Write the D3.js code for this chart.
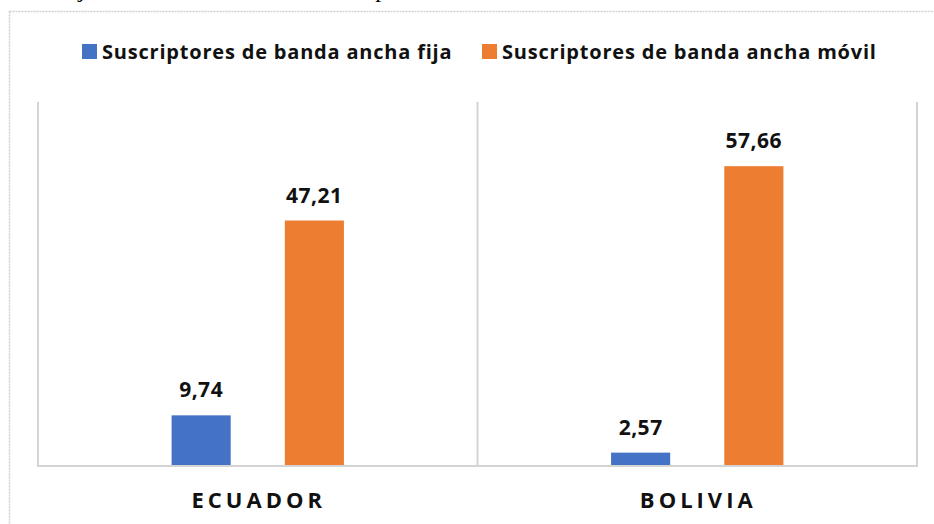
<!DOCTYPE html>
<html>
<head>
<meta charset="utf-8">
<script src="https://cdn.jsdelivr.net/npm/d3@7"></script>
<style>
  html, body { margin: 0; padding: 0; background: #fff; }
  svg { display: block; }
</style>
</head>
<body>
<svg id="chart" width="934" height="524"></svg>
<script>
// Data
const categories = ["ECUADOR", "BOLIVIA"];
const seriesNames = ["Suscriptores de banda ancha fija", "Suscriptores de banda ancha móvil"];
const fija = [9.74, 2.57];
const movil = [47.21, 57.66];
const seriesColors = ["#4472C4", "#ED7D31"];

const fmt = v => d3.format(".2f")(v).replace(".", ",");

const svg = d3.select("#chart");
const W = 934, H = 524;
const plot = { left: 38, right: 917, top: 102, bottom: 466 };
const labelFont = "'Open Sans', Lato, sans-serif";

// Running text of the page above the figure (only its lowest strokes fall inside)
svg.append("text")
  .attr("x", 97).attr("y", -3)
  .attr("text-anchor", "end")
  .attr("font-family", "'Liberation Serif', 'Times New Roman', serif")
  .attr("font-size", 24)
  .attr("fill", "#000")
  .text("Trabajo");
svg.append("text")
  .attr("x", 334).attr("y", -3)
  .attr("font-family", "'Liberation Serif', 'Times New Roman', serif")
  .attr("font-size", 24)
  .attr("fill", "#000")
  .text("comparación");

// Chart frame
svg.append("rect")
  .attr("x", 9.5).attr("y", 11.5)
  .attr("width", W + 20).attr("height", H + 20)
  .attr("fill", "none")
  .attr("stroke", "#d0d0d0")
  .attr("stroke-width", 1.5)
  .attr("stroke-dasharray", "2,1");

// Scales
const x0 = d3.scaleBand()
  .domain(categories)
  .range([plot.left, plot.right])
  .padding(0);

const x1 = d3.scaleBand()
  .domain(seriesNames)
  .range([0, x0.bandwidth()])
  .paddingInner(0.478)
  .paddingOuter(1.18);

const y = d3.scaleLinear()
  .domain([0, 70])
  .range([plot.bottom, plot.top]);

// Category separators (vertical gridlines at band edges)
const edges = categories.map(c => x0(c)).concat([plot.right]);
svg.append("g")
  .selectAll("line")
  .data(edges)
  .join("line")
  .attr("x1", d => d).attr("x2", d => d)
  .attr("y1", plot.top).attr("y2", plot.bottom)
  .attr("stroke", "#d4d4d4")
  .attr("stroke-width", 2);

// Bars
const rows = categories.map((c, i) => ({ cat: c, values: [fija[i], movil[i]] }));
const groups = svg.append("g")
  .selectAll("g")
  .data(rows)
  .join("g")
  .attr("transform", d => `translate(${x0(d.cat)},0)`);

groups.selectAll("rect")
  .data(d => d.values.map((v, k) => ({ name: seriesNames[k], v, k })))
  .join("rect")
  .attr("x", d => x1(d.name))
  .attr("width", x1.bandwidth())
  .attr("y", d => y(d.v))
  .attr("height", d => y(0) - y(d.v))
  .attr("fill", d => seriesColors[d.k]);

groups.selectAll("text.val")
  .data(d => d.values.map((v, k) => ({ name: seriesNames[k], v, k })))
  .join("text")
  .attr("class", "val")
  .attr("x", d => x1(d.name) + x1.bandwidth() / 2)
  .attr("y", d => y(d.v) - 18)
  .attr("text-anchor", "middle")
  .attr("font-family", labelFont)
  .attr("font-weight", 700)
  .attr("font-size", 21)
  .attr("letter-spacing", 0.5)
  .attr("fill", "#111")
  .text(d => fmt(d.v));

// Category axis line
svg.append("line")
  .attr("x1", plot.left - 1).attr("x2", plot.right + 1)
  .attr("y1", plot.bottom).attr("y2", plot.bottom)
  .attr("stroke", "#d4d4d4")
  .attr("stroke-width", 2);

// Category labels
svg.append("g")
  .selectAll("text")
  .data(categories)
  .join("text")
  .attr("x", d => x0(d) + x0.bandwidth() / 2 + 1)
  .attr("y", 508)
  .attr("text-anchor", "middle")
  .attr("font-family", labelFont)
  .attr("font-weight", 700)
  .attr("font-size", 22)
  .attr("letter-spacing", 4)
  .attr("fill", "#111")
  .text(d => d);

// Legend
const legendItems = [
  { name: seriesNames[0], color: seriesColors[0], x: 82 },
  { name: seriesNames[1], color: seriesColors[1], x: 482 }
];
const lg = svg.append("g")
  .selectAll("g")
  .data(legendItems)
  .join("g")
  .attr("transform", d => `translate(${d.x},44)`);
lg.append("rect")
  .attr("width", 15).attr("height", 15)
  .attr("fill", d => d.color);
lg.append("text")
  .attr("x", 20).attr("y", 14.5)
  .attr("font-family", labelFont)
  .attr("font-weight", 700)
  .attr("font-size", 20)
  .attr("letter-spacing", 0.8)
  .attr("fill", "#111")
  .text(d => d.name);
</script>
</body>
</html>
